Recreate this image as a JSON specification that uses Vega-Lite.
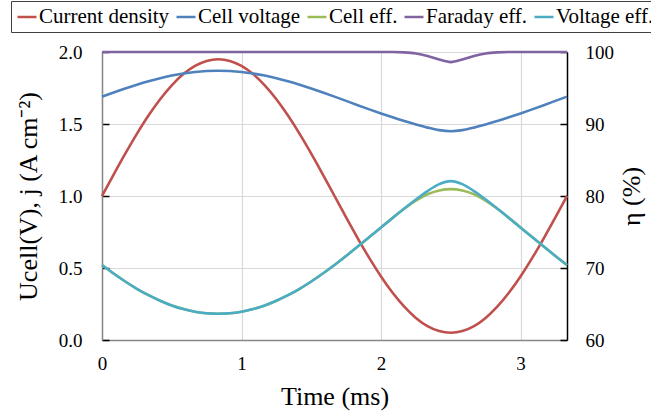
{
  "$schema": "https://vega.github.io/schema/vega-lite/v6.json",
  "width": 465,
  "height": 288,
  "autosize": {"type": "none"},
  "padding": {"left": 102, "top": 52, "right": 84, "bottom": 79},
  "background": "white",
  "config": {
    "view": {"stroke": null},
    "font": "Liberation Serif",
    "axis": {"labelFont": "Liberation Serif", "titleFont": "Liberation Serif", "labelColor": "black", "titleColor": "black", "titleFontWeight": "normal", "labelFontSize": 19, "titleFontSize": 26, "gridColor": "#D9D9D9", "gridWidth": 1.2},
    "legend": {"labelFont": "Liberation Serif"}
  },
  "data": {"values": [
    {"t": 0, "current": 1.0, "voltage": 1.690, "voltage_eff": 70.41, "faraday_eff": 100, "cell_eff": 70.41},
    {"t": 0.0833, "current": 1.1486, "voltage": 1.7190, "voltage_eff": 69.23, "faraday_eff": 100, "cell_eff": 69.23},
    {"t": 0.1667, "current": 1.2936, "voltage": 1.7469, "voltage_eff": 68.12, "faraday_eff": 100, "cell_eff": 68.12},
    {"t": 0.25, "current": 1.4313, "voltage": 1.7731, "voltage_eff": 67.11, "faraday_eff": 100, "cell_eff": 67.11},
    {"t": 0.3333, "current": 1.5584, "voltage": 1.7971, "voltage_eff": 66.22, "faraday_eff": 100, "cell_eff": 66.22},
    {"t": 0.4167, "current": 1.6717, "voltage": 1.8183, "voltage_eff": 65.45, "faraday_eff": 100, "cell_eff": 65.45},
    {"t": 0.5, "current": 1.7686, "voltage": 1.8364, "voltage_eff": 64.80, "faraday_eff": 100, "cell_eff": 64.80},
    {"t": 0.5833, "current": 1.8465, "voltage": 1.8508, "voltage_eff": 64.30, "faraday_eff": 100, "cell_eff": 64.30},
    {"t": 0.6667, "current": 1.9035, "voltage": 1.8614, "voltage_eff": 63.93, "faraday_eff": 100, "cell_eff": 63.93},
    {"t": 0.75, "current": 1.9383, "voltage": 1.8678, "voltage_eff": 63.71, "faraday_eff": 100, "cell_eff": 63.71},
    {"t": 0.8333, "current": 1.95, "voltage": 1.8700, "voltage_eff": 63.64, "faraday_eff": 100, "cell_eff": 63.64},
    {"t": 0.9167, "current": 1.9383, "voltage": 1.8678, "voltage_eff": 63.71, "faraday_eff": 100, "cell_eff": 63.71},
    {"t": 1.0, "current": 1.9035, "voltage": 1.8614, "voltage_eff": 63.93, "faraday_eff": 100, "cell_eff": 63.93},
    {"t": 1.0833, "current": 1.8465, "voltage": 1.8508, "voltage_eff": 64.30, "faraday_eff": 100, "cell_eff": 64.30},
    {"t": 1.1667, "current": 1.7686, "voltage": 1.8364, "voltage_eff": 64.80, "faraday_eff": 100, "cell_eff": 64.80},
    {"t": 1.25, "current": 1.6717, "voltage": 1.8183, "voltage_eff": 65.45, "faraday_eff": 100, "cell_eff": 65.45},
    {"t": 1.3333, "current": 1.5584, "voltage": 1.7971, "voltage_eff": 66.22, "faraday_eff": 100, "cell_eff": 66.22},
    {"t": 1.4167, "current": 1.4313, "voltage": 1.7731, "voltage_eff": 67.11, "faraday_eff": 100, "cell_eff": 67.11},
    {"t": 1.5, "current": 1.2936, "voltage": 1.7469, "voltage_eff": 68.12, "faraday_eff": 100, "cell_eff": 68.12},
    {"t": 1.5833, "current": 1.1486, "voltage": 1.7190, "voltage_eff": 69.23, "faraday_eff": 100, "cell_eff": 69.23},
    {"t": 1.6667, "current": 1.0, "voltage": 1.690, "voltage_eff": 70.41, "faraday_eff": 100, "cell_eff": 70.41},
    {"t": 1.75, "current": 0.8514, "voltage": 1.6604, "voltage_eff": 71.67, "faraday_eff": 100, "cell_eff": 71.67},
    {"t": 1.8333, "current": 0.7064, "voltage": 1.6307, "voltage_eff": 72.97, "faraday_eff": 100, "cell_eff": 72.97},
    {"t": 1.9167, "current": 0.5687, "voltage": 1.6016, "voltage_eff": 74.30, "faraday_eff": 100, "cell_eff": 74.30},
    {"t": 2.0, "current": 0.4416, "voltage": 1.5733, "voltage_eff": 75.64, "faraday_eff": 100, "cell_eff": 75.64},
    {"t": 2.0833, "current": 0.3283, "voltage": 1.5462, "voltage_eff": 76.96, "faraday_eff": 100, "cell_eff": 76.96},
    {"t": 2.1667, "current": 0.2315, "voltage": 1.5206, "voltage_eff": 78.26, "faraday_eff": 99.95, "cell_eff": 78.22},
    {"t": 2.25, "current": 0.1536, "voltage": 1.4967, "voltage_eff": 79.51, "faraday_eff": 99.8, "cell_eff": 79.35},
    {"t": 2.3333, "current": 0.0965, "voltage": 1.4749, "voltage_eff": 80.68, "faraday_eff": 99.45, "cell_eff": 80.24},
    {"t": 2.4167, "current": 0.0617, "voltage": 1.4574, "voltage_eff": 81.65, "faraday_eff": 98.95, "cell_eff": 80.77},
    {"t": 2.5, "current": 0.05, "voltage": 1.4500, "voltage_eff": 82.07, "faraday_eff": 98.6, "cell_eff": 80.95},
    {"t": 2.5833, "current": 0.0617, "voltage": 1.4574, "voltage_eff": 81.65, "faraday_eff": 98.95, "cell_eff": 80.77},
    {"t": 2.6667, "current": 0.0965, "voltage": 1.4749, "voltage_eff": 80.68, "faraday_eff": 99.45, "cell_eff": 80.24},
    {"t": 2.75, "current": 0.1536, "voltage": 1.4967, "voltage_eff": 79.51, "faraday_eff": 99.8, "cell_eff": 79.35},
    {"t": 2.8333, "current": 0.2315, "voltage": 1.5206, "voltage_eff": 78.26, "faraday_eff": 99.95, "cell_eff": 78.22},
    {"t": 2.9167, "current": 0.3283, "voltage": 1.5462, "voltage_eff": 76.96, "faraday_eff": 100, "cell_eff": 76.96},
    {"t": 3.0, "current": 0.4416, "voltage": 1.5733, "voltage_eff": 75.64, "faraday_eff": 100, "cell_eff": 75.64},
    {"t": 3.0833, "current": 0.5687, "voltage": 1.6016, "voltage_eff": 74.30, "faraday_eff": 100, "cell_eff": 74.30},
    {"t": 3.1667, "current": 0.7064, "voltage": 1.6307, "voltage_eff": 72.97, "faraday_eff": 100, "cell_eff": 72.97},
    {"t": 3.25, "current": 0.8514, "voltage": 1.6604, "voltage_eff": 71.67, "faraday_eff": 100, "cell_eff": 71.67},
    {"t": 3.3333, "current": 1.0, "voltage": 1.690, "voltage_eff": 70.41, "faraday_eff": 100, "cell_eff": 70.41}
  ]},
  "encoding": {
    "x": {
      "field": "t", "type": "quantitative",
      "scale": {"domain": [0, 3.3333], "nice": false},
      "axis": {"values": [0, 1, 2, 3], "title": "Time (ms)", "format": "d", "grid": true, "ticks": false, "labelFlush": false, "labelFont": "Liberation Serif", "labelFontSize": 19, "domainColor": "#868686", "domainWidth": 1.5, "labelPadding": 14, "titlePadding": 10}
    },
    "color": {
      "field": "series", "type": "nominal",
      "scale": {"domain": ["current", "voltage", "cell_eff", "faraday_eff", "voltage_eff"], "range": ["#C0504D", "#4F81BD", "#9BBB59", "#8064A2", "#4BACC6"]},
      "legend": {
        "title": null, "orient": "none", "legendX": -91, "legendY": -51,
        "direction": "horizontal", "columns": 5,
        "symbolType": "stroke", "symbolSize": 361, "symbolStrokeWidth": 2.5,
        "labelFont": "Liberation Serif",
        "labelFontSize": 21, "labelColor": "black", "labelOffset": 1, "columnPadding": 1,
        "padding": 5, "strokeColor": "#404040",
        "labelExpr": "datum.label == 'current' ? 'Current density' : datum.label == 'voltage' ? 'Cell voltage' : datum.label == 'cell_eff' ? 'Cell eff.' : datum.label == 'faraday_eff' ? 'Faraday eff.' : 'Voltage eff.'"
      }
    }
  },
  "layer": [
    {
      "transform": [{"fold": ["current", "voltage"], "as": ["series", "value"]}],
      "mark": {"type": "line", "strokeWidth": 2.6, "interpolate": "monotone", "clip": false},
      "encoding": {
        "y": {
          "field": "value", "type": "quantitative",
          "scale": {"domain": [0, 2], "nice": false},
          "axis": {"orient": "left", "values": [0, 0.5, 1, 1.5, 2], "format": ".1f", "title": "Ucell(V),  j (A cm⁻²)", "grid": true, "labelFont": "Liberation Serif", "labelFontSize": 19, "tickSize": -7, "tickColor": "black", "tickWidth": 1.5, "domainColor": "#868686", "domainWidth": 1.5, "labelPadding": 27, "titlePadding": 17}
        }
      }
    },
    {
      "transform": [{"fold": ["cell_eff", "faraday_eff", "voltage_eff"], "as": ["series", "value"]}],
      "mark": {"type": "line", "strokeWidth": 2.6, "interpolate": "monotone", "clip": false},
      "encoding": {
        "y": {
          "field": "value", "type": "quantitative",
          "scale": {"domain": [60, 100], "nice": false},
          "axis": {"orient": "right", "values": [60, 70, 80, 90, 100], "format": "d", "title": "η (%)", "titleAngle": 270, "grid": false, "labelFont": "Liberation Serif", "labelFontSize": 19, "tickSize": -7, "tickColor": "black", "tickWidth": 1.5, "domainColor": "black", "domainWidth": 1.5, "labelPadding": 25, "titlePadding": 31}
        }
      }
    }
  ],
  "resolve": {"scale": {"y": "independent"}}
}
